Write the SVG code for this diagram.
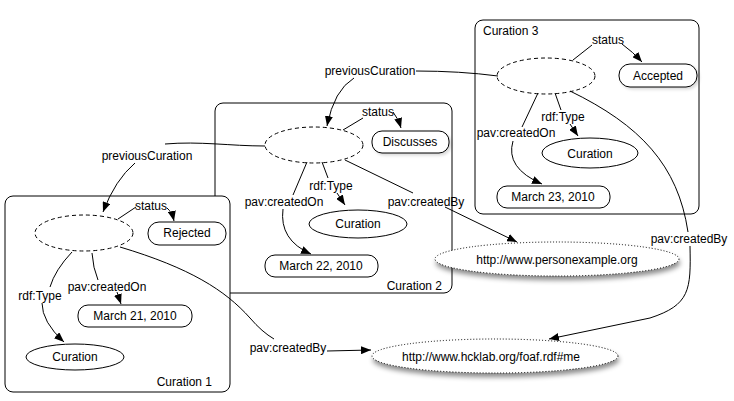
<svg xmlns="http://www.w3.org/2000/svg" width="734" height="401" viewBox="0 0 734 401">
<style>
text{font-family:"Liberation Sans",Arial,sans-serif;font-size:12px;fill:#000;text-anchor:middle}
.box{fill:#fff;stroke:#000;stroke-width:1}
.node{fill:#fff;stroke:#000;stroke-width:1}
.blank{fill:#fff;stroke:#000;stroke-width:1;stroke-dasharray:4 3}
.uri{fill:#fff;stroke:#000;stroke-width:1;stroke-dasharray:1 2}
.edge{fill:none;stroke:#000;stroke-width:1}
.arr{fill:none;stroke:#000;stroke-width:1;marker-end:url(#ah)}
</style>
<defs>
<marker id="ah" markerUnits="userSpaceOnUse" markerWidth="10" markerHeight="8" refX="10" refY="4" orient="auto">
<path d="M0,0 L10,4 L0,8 z" fill="#000"/>
</marker>
<filter id="sh" x="-10%" y="-30%" width="120%" height="180%">
<feDropShadow dx="1" dy="4" stdDeviation="2.5" flood-color="#000" flood-opacity="0.45"/>
</filter>
<filter id="sh2" x="-10%" y="-30%" width="120%" height="160%">
<feDropShadow dx="2" dy="2" stdDeviation="1.5" flood-color="#000" flood-opacity="0.15"/>
</filter>
</defs>

<g id="curation2">
<rect class="box" x="215" y="103" width="237" height="190" rx="8"/>
<text x="442" y="290" style="text-anchor:end">Curation 2</text>
</g>
<g id="curation1">
<rect class="box" x="5" y="196" width="225" height="196" rx="8"/>
<text x="212" y="386" style="text-anchor:end">Curation 1</text>
</g>
<g id="curation3">
<rect class="box" x="475" y="20" width="224" height="194" rx="8"/>
<text x="483" y="35" style="text-anchor:start">Curation 3</text>
</g>

<g id="c3-blank"><ellipse class="blank" cx="546" cy="76" rx="49" ry="18"/></g>
<g id="c3-accepted"><rect class="node" x="619" y="64" width="78" height="23" rx="11" filter="url(#sh2)"/><text x="658" y="80">Accepted</text></g>
<g id="c3-curation"><ellipse class="node" cx="590" cy="153" rx="48" ry="15"/><text x="590" y="158">Curation</text></g>
<g id="c3-date"><rect class="node" x="497" y="186" width="113" height="22" rx="10"/><text x="553" y="201">March 23, 2010</text></g>

<g id="c2-blank"><ellipse class="blank" cx="314" cy="145" rx="49" ry="18"/></g>
<g id="c2-discusses"><rect class="node" x="372" y="131" width="77" height="22" rx="10" filter="url(#sh2)"/><text x="410" y="146">Discusses</text></g>
<g id="c2-curation"><ellipse class="node" cx="358" cy="224" rx="49" ry="14"/><text x="358" y="228">Curation</text></g>
<g id="c2-date"><rect class="node" x="265" y="255" width="113" height="22" rx="10"/><text x="321" y="270">March 22, 2010</text></g>

<g id="c1-blank"><ellipse class="blank" cx="84" cy="233" rx="49" ry="18"/></g>
<g id="c1-rejected"><rect class="node" x="148" y="222" width="78" height="23" rx="11"/><text x="187" y="237">Rejected</text></g>
<g id="c1-curation"><ellipse class="node" cx="75" cy="357" rx="49" ry="13"/><text x="75" y="361">Curation</text></g>
<g id="c1-date"><rect class="node" x="78" y="305" width="114" height="22" rx="10"/><text x="135" y="320">March 21, 2010</text></g>

<g id="person"><ellipse class="uri" cx="557" cy="259" rx="122" ry="17" filter="url(#sh)"/><text x="557" y="264">http://www.personexample.org</text></g>
<g id="hcklab"><ellipse class="uri" cx="495" cy="356" rx="123" ry="17" filter="url(#sh)"/><text x="491" y="361">http://www.hcklab.org/foaf.rdf#me</text></g>

<g id="connectors">
<path class="edge" d="M498,76 Q460,71 416,71"/>
<path class="arr" d="M354,78 Q334,90 327,126"/>
<text x="370" y="75">previousCuration</text>

<path class="edge" d="M265,146 C230,146 200,141 165,144"/>
<path class="arr" d="M135,163 Q115,180 103,212"/>
<text x="147" y="160">previousCuration</text>

<path class="edge" d="M573,60 L592,45"/>
<path class="arr" d="M622,44 Q633,52 642,62"/>
<text x="608" y="44">status</text>

<path class="edge" d="M343,130 L363,118"/>
<path class="arr" d="M393,112 Q398,118 401,128"/>
<text x="378" y="116">status</text>

<path class="edge" d="M118,219 L136,207"/>
<path class="arr" d="M167,208 Q172,212 174,221"/>
<text x="151" y="210">status</text>

<path class="edge" d="M555,93 L561,110"/>
<path class="arr" d="M570,124 L578,136"/>
<text x="563" y="121">rdf:Type</text>

<path class="edge" d="M538,93 L522,127"/>
<path class="arr" d="M513,141 Q505,168 542,184"/>
<text x="516" y="137">pav:createdOn</text>

<path class="edge" d="M570,91 C640,125 678,165 688,232"/>
<path class="arr" d="M690,246 C691,290 690,305 650,318 L549,339"/>
<text x="689" y="243">pav:createdBy</text>

<path class="edge" d="M322,162 L328,178"/>
<path class="arr" d="M337,193 L345,205"/>
<text x="331" y="190">rdf:Type</text>

<path class="edge" d="M307,162 L293,195"/>
<path class="arr" d="M283,209 Q279,240 311,254"/>
<text x="284" y="206">pav:createdOn</text>

<path class="edge" d="M345,160 L413,193"/>
<path class="arr" d="M445,207 L517,242"/>
<text x="426" y="206">pav:createdBy</text>

<path class="edge" d="M72,252 Q55,270 50,287"/>
<path class="arr" d="M42,303 Q42,322 64,342"/>
<text x="40" y="300">rdf:Type</text>

<path class="edge" d="M92,253 Q93,268 98,280"/>
<path class="arr" d="M117,292 L121,304"/>
<text x="107" y="291">pav:createdOn</text>

<path class="edge" d="M120,247 C190,268 225,290 250,318 Q262,332 274,339"/>
<path class="arr" d="M327,351 L371,350"/>
<text x="288" y="352">pav:createdBy</text>
</g>
</svg>
